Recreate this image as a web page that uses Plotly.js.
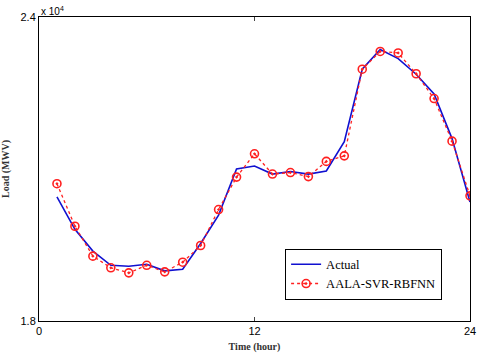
<!DOCTYPE html>
<html><head><meta charset="utf-8">
<script src="https://cdn.plot.ly/plotly-3.0.1.min.js"></script>
<style>html,body{margin:0;padding:0;background:#fff}#c{width:477px;height:356px}</style>
</head><body><div id="c"></div>
<script>
const hours = [1,2,3,4,5,6,7,8,9,10,11,12,13,14,15,16,17,18,19,20,21,22,23,24];
const actual = [2.045,1.981,1.938,1.910,1.908,1.912,1.899,1.902,1.953,2.009,2.100,2.106,2.090,2.095,2.090,2.096,2.154,2.297,2.336,2.318,2.287,2.248,2.160,2.035];
const predicted = [2.071,1.987,1.928,1.905,1.895,1.910,1.897,1.916,1.949,2.020,2.084,2.130,2.090,2.093,2.085,2.115,2.126,2.297,2.332,2.329,2.288,2.239,2.155,2.047];
const xTicks = [0,12,24];
const yTicks = [1.8,2.4];
const seriesNames = ['Actual','AALA-SVR-RBFNN'];

const serif = 'Liberation Serif, Times New Roman, serif';
const sans = 'Liberation Sans, Arial, sans-serif';
Plotly.newPlot('c', [
  {x: hours, y: actual, name: seriesNames[0], mode: 'lines', line: {color: '#1010d0', width: 1.6}},
  {x: hours, y: predicted, name: seriesNames[1], mode: 'lines+markers', line: {color: '#ff2020', width: 1.3, dash: 'dot'},
   marker: {symbol: 'circle-open-dot', size: 8, color: '#ff2020', line: {width: 1.6, color: '#ff2020'}}}
], {
  width: 477, height: 356,
  margin: {l: 39, r: 7, t: 17, b: 35},
  paper_bgcolor: '#fff', plot_bgcolor: '#fff',
  showlegend: true,
  legend: {x: 0.571, y: 0.238, xanchor: 'left', yanchor: 'top', bgcolor: '#fff', bordercolor: '#000', borderwidth: 1,
    font: {family: serif, size: 12.5, color: '#000'}, tracegroupgap: 0, itemwidth: 30},
  xaxis: {range: [0, 24], tickvals: xTicks, ticks: 'inside', ticklen: 4, mirror: 'ticks', showline: true, linecolor: '#000', linewidth: 1,
    showgrid: false, zeroline: false, tickfont: {family: sans, size: 11, color: '#000'},
    title: {text: '<b>Time (hour)</b>', font: {family: serif, size: 10, color: '#333'}, standoff: 6}},
  yaxis: {range: [1.8, 2.4], tickvals: yTicks, ticktext: ['1.8','2.4'], ticks: 'inside', ticklen: 4, mirror: 'ticks', showline: true, linecolor: '#000', linewidth: 1,
    showgrid: false, zeroline: false, tickfont: {family: sans, size: 11, color: '#000'},
    title: {text: '<b>Load (MWV)</b>', font: {family: serif, size: 10, color: '#333'}, standoff: 12}},
  annotations: [{xref: 'paper', yref: 'paper', x: 0, y: 1, xanchor: 'left', yanchor: 'bottom', showarrow: false,
    text: 'x 10<sup>4</sup>', font: {family: sans, size: 10, color: '#000'}, yshift: -2}]
}, {displayModeBar: false, staticPlot: true});
</script></body></html>
